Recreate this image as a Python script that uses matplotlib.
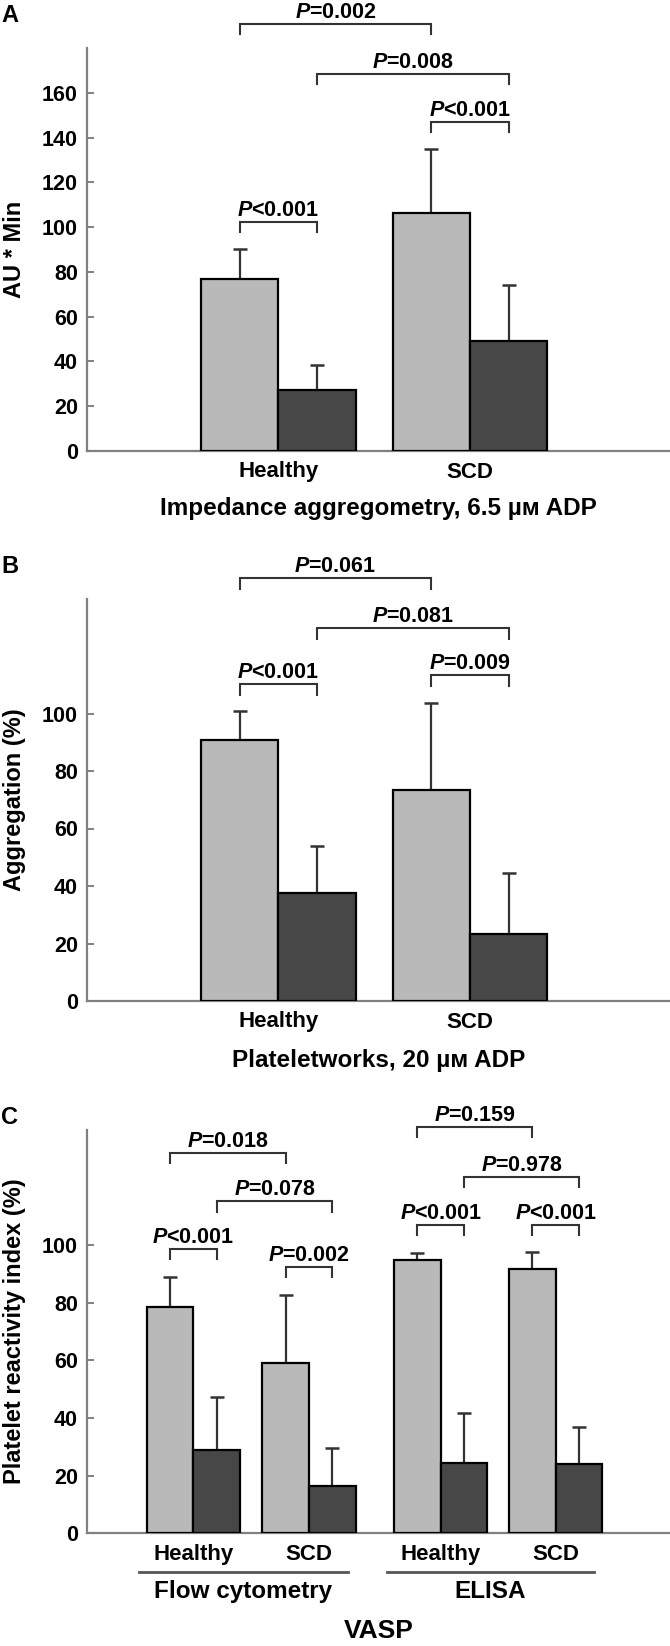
"""Platelet function panels A-C: light = baseline, dark = on treatment."""
import matplotlib
matplotlib.use("Agg")
import matplotlib.pyplot as plt

FONT = "Liberation Sans"

plt.rcParams.update({
    "font.family": [FONT, "DejaVu Sans"],
    "font.weight": "bold",
    "mathtext.fontset": "custom",
    "mathtext.it": f"{FONT}:italic:bold",
    "mathtext.rm": f"{FONT}:bold",
    "mathtext.bf": f"{FONT}:bold",
})

LIGHT = "#b9b9b9"
DARK = "#474747"
AXIS_GREY = "#808080"
LINE = "#333333"

# ---- panel A: impedance aggregometry
A_GROUPS = ["Healthy", "SCD"]
A_LIGHT = [76.7, 106.3]
A_LIGHT_SD = [13.4, 28.7]
A_DARK = [27.4, 49.3]
A_DARK_SD = [10.8, 24.8]
# (label, group1, bar1, group2, bar2, height)
A_P = [("=0.002", 0, 0, 1, 0, 190.7),
       ("=0.008", 0, 1, 1, 1, 168.3),
       ("<0.001", 1, 0, 1, 1, 147.1),
       ("<0.001", 0, 0, 0, 1, 102.2)]

# ---- panel B: Plateletworks
B_GROUPS = ["Healthy", "SCD"]
B_LIGHT = [90.9, 73.5]
B_LIGHT_SD = [9.8, 30.1]
B_DARK = [37.7, 23.4]
B_DARK_SD = [16.3, 21.0]
B_P = [("=0.061", 0, 0, 1, 0, 147.2),
       ("=0.081", 0, 1, 1, 1, 129.7),
       ("<0.001", 0, 0, 0, 1, 110.2),
       ("=0.009", 1, 0, 1, 1, 113.3)]

# ---- panel C: VASP
C_GROUPS = ["Healthy", "SCD", "Healthy", "SCD"]
C_METHODS = ["Flow cytometry", "ELISA"]
C_LIGHT = [78.6, 59.1, 94.7, 91.7]
C_LIGHT_SD = [10.2, 23.5, 2.6, 6.1]
C_DARK = [29.0, 16.4, 24.4, 24.2]
C_DARK_SD = [18.4, 13.3, 17.2, 12.7]
C_P = [("=0.018", 0, 0, 1, 0, 132.0),
       ("=0.078", 0, 1, 1, 1, 115.2),
       ("<0.001", 0, 0, 0, 1, 98.8),
       ("=0.002", 1, 0, 1, 1, 92.5),
       ("=0.159", 2, 0, 3, 0, 141.0),
       ("=0.978", 2, 1, 3, 1, 123.7),
       ("<0.001", 2, 0, 2, 1, 107.0),
       ("<0.001", 3, 0, 3, 1, 107.0)]

W, H = 670, 1646
PT = 0.72  # points per pixel at dpi 100


def draw_panel(ax, centers, light, light_sd, dark, dark_sd, groups, pvals,
               ymax, yticks, ylabel, leg, xlim):
    xl = [c - 0.5 for c in centers]
    xd = [c + 0.5 for c in centers]
    ax.bar(xl, light, width=1.0, color=LIGHT, edgecolor="black", linewidth=1.6, zorder=3)
    ax.bar(xd, dark, width=1.0, color=DARK, edgecolor="black", linewidth=1.6, zorder=3)
    for xs, m, sd in ((xl, light, light_sd), (xd, dark, dark_sd)):
        ax.errorbar(xs, m, yerr=[[0] * len(m), sd], fmt="none", ecolor=LINE,
                    elinewidth=1.6, capsize=5, capthick=1.8, zorder=2)

    bx = [xl, xd]
    for label, g1, b1, g2, b2, y in pvals:
        x1, x2 = bx[b1][g1], bx[b2][g2]
        ax.plot([x1, x1, x2, x2], [y - leg, y, y, y - leg], color=LINE,
                lw=1.5, clip_on=False, solid_joinstyle="miter")
        ax.annotate(r"$\mathit{P}$" + label, xy=((x1 + x2) / 2, y),
                    xytext=(0, 6 * PT), textcoords="offset points",
                    ha="center", va="baseline", fontsize=15.5, fontweight="bold",
                    annotation_clip=False)

    for c, g in zip(centers, groups):
        ax.annotate(g, xy=(c, 0), xycoords=("data", "axes fraction"),
                    xytext=(0, -21 * PT), textcoords="offset points",
                    ha="center", va="center", fontsize=16, fontweight="bold")

    ax.set_xlim(*xlim)
    ax.set_ylim(0, ymax)
    ax.set_yticks(yticks)
    ax.set_xticks([])
    ax.tick_params(axis="y", direction="in", length=5, width=1.4,
                   color=AXIS_GREY, pad=7, labelsize=15.5)
    for t in ax.get_yticklabels():
        t.set_fontweight("bold")
    for s in ("top", "right"):
        ax.spines[s].set_visible(False)
    for s in ("left", "bottom"):
        ax.spines[s].set_color(AXIS_GREY)
        ax.spines[s].set_linewidth(1.6)
    ax.text(-0.126, 0.5, ylabel, transform=ax.transAxes, rotation=90,
            ha="center", va="center", fontsize=17, fontweight="bold")


def main():
    fig = plt.figure(figsize=(W / 100, H / 100), dpi=100)
    left, width = 87.5 / W, 582.5 / W

    ax_a = fig.add_axes([left, 1 - 451 / H, width, 403 / H])
    ax_b = fig.add_axes([left, 1 - 1001 / H, width, 402.5 / H])
    ax_c = fig.add_axes([left, 1 - 1533.3 / H, width, 403.3 / H])

    ab_centers = [0, 2.48]
    ab_xlim = (-2.47, 5.07)
    draw_panel(ax_a, ab_centers, A_LIGHT, A_LIGHT_SD, A_DARK, A_DARK_SD,
               A_GROUPS, A_P, 180, range(0, 161, 20), "AU * Min", 4.5, ab_xlim)
    draw_panel(ax_b, ab_centers, B_LIGHT, B_LIGHT_SD, B_DARK, B_DARK_SD,
               B_GROUPS, B_P, 140, range(0, 101, 20), "Aggregation (%)", 3.8, ab_xlim)

    c_centers = [0, 2.48, 5.30, 7.76]
    draw_panel(ax_c, c_centers, C_LIGHT, C_LIGHT_SD, C_DARK, C_DARK_SD,
               C_GROUPS, C_P, 140, range(0, 101, 20),
               "Platelet reactivity index (%)", 3.6, (-2.266, 10.21))

    # method underlines and names below panel C
    trans = ax_c.get_xaxis_transform()
    for i, name in enumerate(C_METHODS):
        a, b = c_centers[2 * i], c_centers[2 * i + 1]
        ax_c.plot([a - 1.16, b + 0.83], [-39 / 403.3] * 2, color="#555555",
                  lw=2.0, transform=trans, clip_on=False)
        ax_c.annotate(name, xy=((a - 1.16 + b + 0.83) / 2, 0),
                      xycoords=("data", "axes fraction"),
                      xytext=(0, -58 * PT), textcoords="offset points",
                      ha="center", va="center", fontsize=17.5, fontweight="bold")

    mid = 0.5 * (left + 1)
    fig.text(mid, 1 - 508 / H, "Impedance aggregometry, 6.5 µм ADP",
             ha="center", va="center", fontsize=17.5, fontweight="bold")
    fig.text(mid, 1 - 1060 / H, "Plateletworks, 20 µм ADP",
             ha="center", va="center", fontsize=17.5, fontweight="bold")
    fig.text(mid, 1 - 1631 / H, "VASP",
             ha="center", va="center", fontsize=19, fontweight="bold")

    for letter, y in (("A", 15), ("B", 566.7), ("C", 1118)):
        fig.text(10 / W, 1 - y / H, letter, ha="center", va="center",
                 fontsize=17, fontweight="bold")

    fig.savefig("out.png", dpi=100)
    plt.close(fig)


if __name__ == "__main__":
    main()
